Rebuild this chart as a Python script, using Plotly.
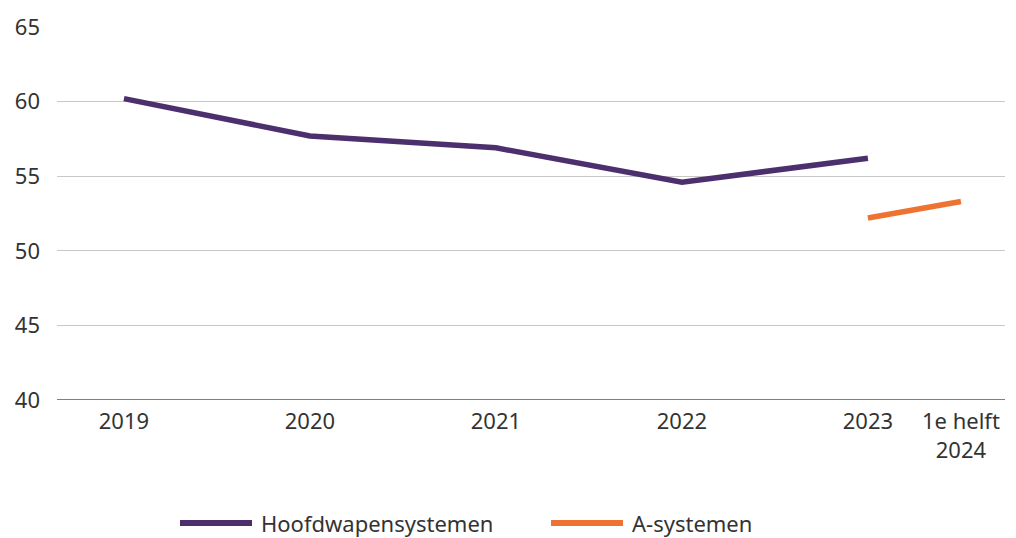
import plotly.graph_objects as go

# Data
years = [2019, 2020, 2021, 2022, 2023]
hoofdwapensystemen = [60.2, 57.7, 56.9, 54.6, 56.2]

a_periods = [2023, 2023.5]
a_systemen = [52.2, 53.3]

tick_positions = [2019, 2020, 2021, 2022, 2023, 2023.5]
tick_labels = ["2019", "2020", "2021", "2022", "2023", "1e helft<br>2024"]
y_ticks = [40, 45, 50, 55, 60, 65]

PURPLE = "#4c2f6d"
ORANGE = "#ee7332"
TEXT = "#333333"
FONT = "Noto Sans"
FS = 22

fig = go.Figure()
fig.add_trace(go.Scatter(x=years, y=hoofdwapensystemen, mode="lines",
                         name="Hoofdwapensystemen",
                         line=dict(color=PURPLE, width=5.5)))
fig.add_trace(go.Scatter(x=a_periods, y=a_systemen, mode="lines",
                         name="A-systemen",
                         line=dict(color=ORANGE, width=5.5)))

# Custom legend drawn below the plot
legend_items = [("Hoofdwapensystemen", PURPLE, 180, 252),
                ("A-systemen", ORANGE, 551, 623)]
W, H = 1016, 538
ml, mr, mt, mb = 57, 11, 27, 138
pw, ph = W - ml - mr, H - mt - mb
legend_y = 523
for label, color, x0, x1 in legend_items:
    fx0 = (x0 - ml) / pw
    fx1 = (x1 - ml) / pw
    fy = (H - mb - legend_y) / ph
    fig.add_shape(type="line", xref="paper", yref="paper",
                  x0=fx0, x1=fx1, y0=fy, y1=fy,
                  line=dict(color=color, width=6))
    fig.add_annotation(xref="paper", yref="paper", x=(x1 + 8 - ml) / pw, y=fy,
                       text=label, showarrow=False, xanchor="left", yanchor="middle",
                       borderpad=0,
                       font=dict(family=FONT, size=FS, color=TEXT))

fig.update_layout(
    width=W, height=H,
    margin=dict(l=ml, r=mr, t=mt, b=mb),
    paper_bgcolor="white", plot_bgcolor="white",
    showlegend=False,
    font=dict(family=FONT, size=FS, color=TEXT),
    xaxis=dict(range=[2018.64, 2023.737], tickvals=tick_positions, ticktext=tick_labels,
               showgrid=False, zeroline=False, showline=False, ticks="",
               ticklabelstandoff=6, tickfont=dict(size=FS, color=TEXT)),
    yaxis=dict(range=[40, 65], tickvals=y_ticks, showgrid=True, gridcolor="#c8c8c8",
               gridwidth=1, zeroline=False, showline=False, ticks="",
               ticklabelstandoff=16, tickfont=dict(size=FS, color=TEXT)),
)
# Baseline at 40
fig.add_shape(type="line", xref="paper", yref="y", x0=0, x1=1, y0=40, y1=40,
              line=dict(color="#555555", width=1.5), layer="below")

fig.write_html("out.html")
